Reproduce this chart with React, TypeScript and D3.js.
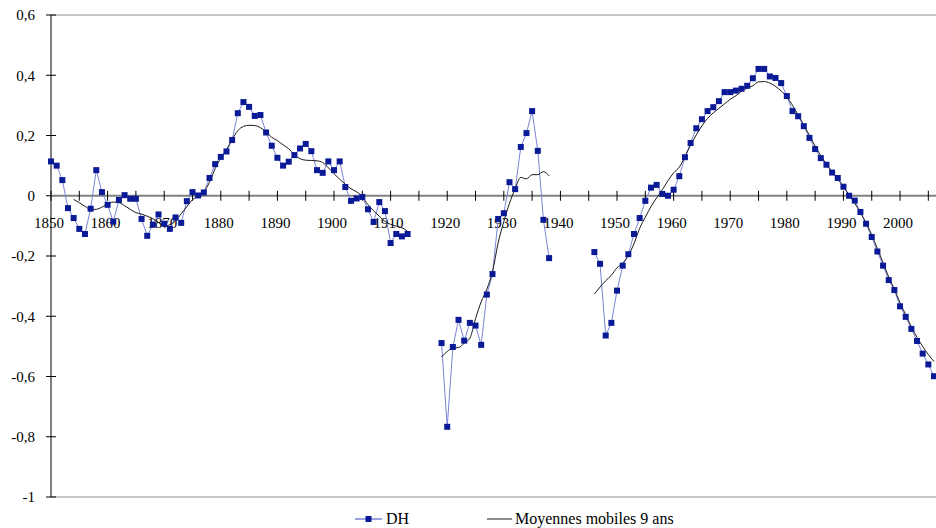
import React, { useEffect, useRef } from 'react';
import * as d3 from 'd3';

// DH series, three runs of yearly values (gaps for the war years)
const dhStart1 = 1850;
const dh1 = [
  0.114, 0.1, 0.052, -0.041, -0.074, -0.11, -0.127, -0.043, 0.085, 0.012,
  -0.03, -0.086, -0.014, 0.002, -0.01, -0.01, -0.077, -0.133, -0.096, -0.062,
  -0.093, -0.11, -0.072, -0.09, -0.018, 0.012, 0.001, 0.011, 0.059, 0.105,
  0.129, 0.147, 0.185, 0.274, 0.311, 0.295, 0.265, 0.268, 0.21, 0.166,
  0.126, 0.1, 0.113, 0.135, 0.157, 0.172, 0.148, 0.085, 0.076, 0.114,
  0.085, 0.114, 0.029, -0.017, -0.009, -0.004, -0.045, -0.087, -0.021, -0.051,
  -0.157, -0.127, -0.135, -0.127,
];
const dhStart2 = 1919;
const dh2 = [
  -0.489, -0.767, -0.502, -0.412, -0.481, -0.422, -0.431, -0.495, -0.328, -0.26,
  -0.077, -0.058, 0.045, 0.022, 0.162, 0.208, 0.281, 0.149, -0.08, -0.207,
];
const dhStart3 = 1946;
const dh3 = [
  -0.187, -0.226, -0.464, -0.422, -0.315, -0.232, -0.194, -0.127, -0.074, -0.017,
  0.027, 0.036, 0.006, 0.0, 0.02, 0.065, 0.128, 0.175, 0.224, 0.254,
  0.281, 0.294, 0.314, 0.344, 0.344, 0.349, 0.355, 0.365, 0.39, 0.421,
  0.421, 0.396, 0.391, 0.374, 0.331, 0.281, 0.264, 0.231, 0.192, 0.155,
  0.125, 0.103, 0.077, 0.059, 0.03, 0.0, -0.016, -0.054, -0.093, -0.137,
  -0.185, -0.232, -0.28, -0.313, -0.367, -0.402, -0.442, -0.482, -0.524, -0.56,
  -0.599,
];

// 9-year moving average
const maStart1 = 1854;
const ma1 = [
  -0.012, -0.023, -0.035, -0.046, -0.045, -0.038, -0.028, -0.021, -0.023, -0.033,
  -0.045, -0.056, -0.061, -0.068, -0.076, -0.089, -0.101, -0.096, -0.084, -0.06,
  -0.036, -0.013, -0.002, 0.012, 0.045, 0.09, 0.125, 0.153, 0.187, 0.216,
  0.23, 0.234, 0.233, 0.226, 0.212, 0.194, 0.183, 0.169, 0.156, 0.136,
  0.123, 0.118, 0.117, 0.116, 0.11, 0.093, 0.073, 0.055, 0.038, 0.023,
  0.013, -0.003, -0.03, -0.05, -0.068, -0.085, -0.095, -0.101, -0.106, -0.118,
];
const maStart2 = 1919;
const ma2 = [
  -0.535, -0.517, -0.505, -0.504, -0.489, -0.473, -0.408, -0.352, -0.31, -0.252,
  -0.156, -0.086, -0.025, 0.023, 0.061, 0.056, 0.07, 0.07, 0.08, 0.066,
];
const maStart3 = 1946;
const ma3 = [
  -0.326, -0.303, -0.282, -0.264, -0.239, -0.224, -0.198, -0.159, -0.108, -0.071,
  -0.036, -0.007, 0.02, 0.05, 0.076, 0.095, 0.129, 0.169, 0.202, 0.232,
  0.257, 0.275, 0.29, 0.305, 0.32, 0.332, 0.347, 0.357, 0.365, 0.378,
  0.379, 0.374, 0.363, 0.348, 0.329, 0.3, 0.268, 0.235, 0.2, 0.165,
  0.133, 0.105, 0.08, 0.056, 0.03, 0.003, -0.025, -0.056, -0.09, -0.13,
  -0.175, -0.222, -0.27, -0.31, -0.355, -0.395, -0.435, -0.47, -0.5, -0.527,
  -0.55,
];

const yTicks = [0.6, 0.4, 0.2, 0, -0.2, -0.4, -0.6, -0.8, -1];
const xLabelYears = d3.range(1850, 2001, 10);
const xTickYears = d3.range(1850, 2006, 5);

const seriesNames = ['DH', 'Moyennes mobiles 9 ans'];

type Pt = { year: number; v: number };
const toPoints = (start: number, vals: number[]): Pt[] =>
  vals.map((v, i) => ({ year: start + i, v }));

const App: React.FC = () => {
  const svgRef = useRef<SVGSVGElement>(null);

  useEffect(() => {
    document.body.style.margin = '0';
    if (!svgRef.current) return;

    const width = 936;
    const font = 'Liberation Serif';

    const svg = d3.select(svgRef.current)
      .attr('font-family', font);
    svg.selectAll('*').remove();

    const x = d3.scaleLinear().domain([1850, 2006]).range([51, 934]);
    const y = d3.scaleLinear().domain([-1, 0.6]).range([497, 15]);
    const left = x(1850);
    const right = width;

    // frame lines at top and bottom
    svg.append('line')
      .attr('x1', left).attr('x2', right)
      .attr('y1', y(0.6)).attr('y2', y(0.6))
      .attr('stroke', '#8c8c8c').attr('stroke-width', 1);
    svg.append('line')
      .attr('x1', left).attr('x2', right)
      .attr('y1', y(-1)).attr('y2', y(-1))
      .attr('stroke', '#8c8c8c').attr('stroke-width', 1);

    // y axis
    svg.append('line')
      .attr('x1', left).attr('x2', left)
      .attr('y1', y(0.6)).attr('y2', y(-1))
      .attr('stroke', '#000').attr('stroke-width', 1);
    const yg = svg.append('g');
    yg.selectAll('line')
      .data(yTicks)
      .join('line')
      .attr('x1', left - 5).attr('x2', left + 5)
      .attr('y1', (d) => y(d)).attr('y2', (d) => y(d))
      .attr('stroke', '#000');
    yg.selectAll('text')
      .data(yTicks)
      .join('text')
      .attr('x', 35)
      .attr('y', (d) => y(d))
      .attr('dy', '0.35em')
      .attr('text-anchor', 'end')
      .attr('font-size', 15)
      .text((d) => (d === 0 ? '0' : String(d).replace('.', ',')));

    // x axis along zero
    svg.append('line')
      .attr('x1', left).attr('x2', right)
      .attr('y1', y(0)).attr('y2', y(0))
      .attr('stroke', '#808080').attr('stroke-width', 2);
    const xg = svg.append('g');
    xg.selectAll('line')
      .data(xTickYears)
      .join('line')
      .attr('x1', (d) => x(d)).attr('x2', (d) => x(d))
      .attr('y1', y(0) - 5).attr('y2', y(0) + 5)
      .attr('stroke', '#000');
    xg.selectAll('text')
      .data(xLabelYears)
      .join('text')
      .attr('x', (d) => x(d) - 2)
      .attr('y', 228)
      .attr('text-anchor', 'middle')
      .attr('font-size', 15)
      .text((d) => String(d));

    const dhLine = d3.line<Pt>().x((d) => x(d.year)).y((d) => y(d.v));
    const maLine = d3.line<Pt>()
      .x((d) => x(d.year)).y((d) => y(d.v))
      .curve(d3.curveMonotoneX);

    const dhRuns = [toPoints(dhStart1, dh1), toPoints(dhStart2, dh2), toPoints(dhStart3, dh3)];
    const maRuns = [toPoints(maStart1, ma1), toPoints(maStart2, ma2), toPoints(maStart3, ma3)];

    svg.append('g').selectAll('path')
      .data(dhRuns)
      .join('path')
      .attr('d', (d) => dhLine(d))
      .attr('fill', 'none')
      .attr('stroke', '#7a84d6')
      .attr('stroke-width', 1);

    svg.append('g').selectAll('path')
      .data(maRuns)
      .join('path')
      .attr('d', (d) => maLine(d))
      .attr('fill', 'none')
      .attr('stroke', '#1a1a1a')
      .attr('stroke-width', 1);

    const ms = 6;
    svg.append('g').selectAll('rect')
      .data(dhRuns.flat())
      .join('rect')
      .attr('x', (d) => x(d.year) - ms / 2)
      .attr('y', (d) => y(d.v) - ms / 2)
      .attr('width', ms)
      .attr('height', ms)
      .attr('fill', '#0a1a96');

    // legend
    const ly = 519;
    const lg = svg.append('g');
    lg.append('line')
      .attr('x1', 355).attr('x2', 382).attr('y1', ly).attr('y2', ly)
      .attr('stroke', '#7a84d6').attr('stroke-width', 1.5);
    lg.append('rect')
      .attr('x', 368.5 - ms / 2).attr('y', ly - ms / 2)
      .attr('width', ms).attr('height', ms)
      .attr('fill', '#0a1a96');
    lg.append('text')
      .attr('x', 386).attr('y', 524)
      .attr('font-size', 16)
      .text(seriesNames[0]);
    lg.append('line')
      .attr('x1', 487).attr('x2', 512).attr('y1', ly).attr('y2', ly)
      .attr('stroke', '#1a1a1a').attr('stroke-width', 1);
    lg.append('text')
      .attr('x', 515).attr('y', 524)
      .attr('font-size', 16)
      .text(seriesNames[1]);
  }, []);

  return (
    <div style={{ width: 936, height: 528, background: '#fff' }}>
      <svg ref={svgRef} width={936} height={528} style={{ display: 'block' }} />
    </div>
  );
};

export default App;
